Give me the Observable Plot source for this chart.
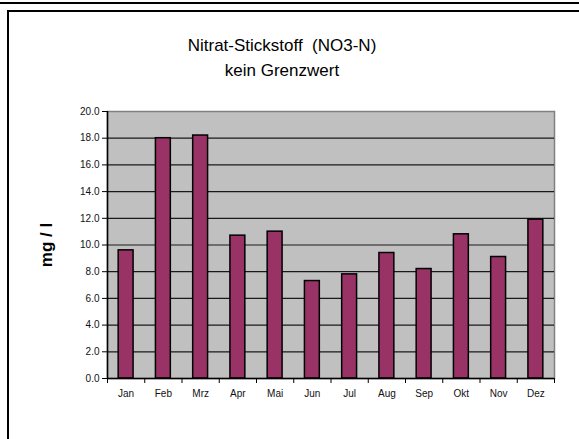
<!DOCTYPE html>
<html>
<head>
<meta charset="utf-8">
<script src="https://cdn.jsdelivr.net/npm/d3@7"></script>
<script src="https://cdn.jsdelivr.net/npm/@observablehq/plot@0.6"></script>
<style>
  html, body { margin: 0; padding: 0; background: #fff; overflow: hidden; width: 579px; height: 439px; }
  #wrap { position: relative; width: 579px; height: 439px; overflow: hidden; font-family: "Liberation Sans", Arial, sans-serif; background: #fff; }
  #topline { position: absolute; left: 0; top: 2px; width: 579px; height: 2px; background: #000; }
  #frameTop { position: absolute; left: 7px; top: 10px; width: 572px; height: 2px; background: #000; }
  #frameLeft { position: absolute; left: 7px; top: 10px; width: 2px; height: 429px; background: #000; }
  #title { position: absolute; left: 132px; width: 300px; top: 33px; text-align: center; font-size: 17px; line-height: 25px; color: #000; white-space: nowrap; }
  #chart { position: absolute; left: 0; top: 0; width: 579px; height: 439px; }
</style>
</head>
<body>
<div id="wrap">
  <div id="topline"></div>
  <div id="frameTop"></div>
  <div id="frameLeft"></div>
  <div id="chart"></div>
  <div id="title">Nitrat-Stickstoff&nbsp; (NO3-N)<br>kein Grenzwert</div>
</div>
<script>
const months = ["Jan", "Feb", "Mrz", "Apr", "Mai", "Jun", "Jul", "Aug", "Sep", "Okt", "Nov", "Dez"];
const values = [9.6, 18.0, 18.2, 10.7, 11.0, 7.3, 7.8, 9.4, 8.2, 10.8, 9.1, 11.9];
const yTicks = [0, 2, 4, 6, 8, 10, 12, 14, 16, 18, 20];
const yLabel = "mg / l";

const data = months.map((m, i) => ({month: m, i, value: values[i]}));
const idx = months.map((m, i) => i);
const separators = [-0.5, ...idx.map(i => i + 0.5)];
const halfBar = 0.2;

const chart = Plot.plot({
  width: 579,
  height: 439,
  marginLeft: 107,
  marginRight: 25,
  marginTop: 111,
  marginBottom: 61,
  style: {background: "transparent", fontFamily: "Liberation Sans, Arial, sans-serif", fontSize: "10px", color: "#111", display: "block"},
  x: {type: "linear", domain: [-0.5, months.length - 0.5]},
  y: {domain: [0, 20]},
  marks: [
    Plot.frame({fill: "#c0c0c0", stroke: "#808080", strokeWidth: 1.5}),
    Plot.ruleY(yTicks.filter(t => t > 0 && t < 20), {stroke: "#1a1a1a", strokeWidth: 1.2}),
    Plot.rectY(data, {x1: d => d.i - halfBar, x2: d => d.i + halfBar, y1: 0, y2: "value", fill: "#993366", stroke: "#000", strokeWidth: 1.5}),
    Plot.axisY({ticks: yTicks, tickFormat: d3.format(".1f"), tickSize: 5, tickPadding: 3, label: null, stroke: "#000", fontSize: 10}),
    Plot.axisX({ticks: separators, tickSize: 5, tickFormat: () => "", label: null, stroke: "#000"}),
    Plot.axisX({ticks: idx, tickSize: 0, tickPadding: 11, tickFormat: i => months[i], label: null, fontSize: 10}),
    Plot.ruleX([-0.5], {stroke: "#000", strokeWidth: 1.5}),
    Plot.ruleY([0], {stroke: "#000", strokeWidth: 1.5}),
    Plot.text([yLabel], {frameAnchor: "left", textAnchor: "middle", dx: -61, rotate: -90, fontSize: 17, fontWeight: "bold", fill: "#000"})
  ]
});
document.getElementById("chart").appendChild(chart);
</script>
</body>
</html>
